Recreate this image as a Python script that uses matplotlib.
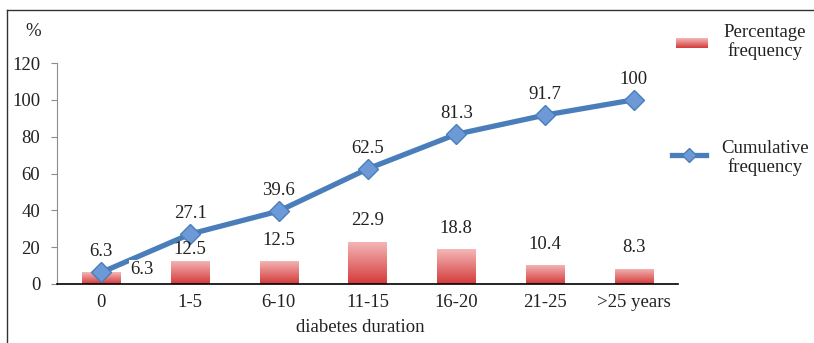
import matplotlib
matplotlib.use("Agg")
import matplotlib.pyplot as plt
import numpy as np
from matplotlib.colors import LinearSegmentedColormap
from matplotlib.lines import Line2D

plt.rcParams['font.family'] = ['Liberation Serif', 'DejaVu Serif']

durations = ["0", "1-5", "6-10", "11-15", "16-20", "21-25", ">25 years"]
percentage = [6.3, 12.5, 12.5, 22.9, 18.8, 10.4, 8.3]
cumulative = [6.3, 27.1, 39.6, 62.5, 81.3, 91.7, 100]

FS = 13.5
TXT = "#222222"
W, H = 814, 343
fig = plt.figure(figsize=(W / 100, H / 100), dpi=100)
ax = fig.add_axes([57 / W, 1 - 284 / H, (678 - 57) / W, (284 - 63) / H])

x = np.arange(len(durations))
red_grad = LinearSegmentedColormap.from_list("redgrad", ["#d43a3a", "#f5b8b8"])
grad = np.linspace(0, 1, 256).reshape(-1, 1)

bars = ax.bar(x, percentage, width=0.43, color="none", edgecolor="none", zorder=2)
for b in bars:
    x0, y0 = b.get_x(), b.get_y()
    im = ax.imshow(grad, cmap=red_grad, origin="lower", aspect="auto",
                   extent=[x0, x0 + b.get_width(), y0, y0 + b.get_height()],
                   zorder=2)
    im.set_clip_path(b)

ax.plot(x, cumulative, color="#4a7ebb", lw=3.8, marker="D", markersize=10,
        markerfacecolor="#6d9ad6", markeredgecolor="#4a7ebb", mew=1, zorder=4)

# cumulative labels above the points
for xi, v in zip(x, cumulative):
    ax.annotate(f"{v:g}", (xi, v), xytext=(0, 15), textcoords="offset points",
                ha="center", va="center", fontsize=FS, color=TXT, zorder=5)

# percentage labels
bar_offsets = [(29, 2), (0, 8), (0, 15), (0, 15), (0, 15), (0, 15), (0, 15)]
for xi, v, off in zip(x, percentage, bar_offsets):
    t = ax.annotate(f"{v:g}", (xi, v), xytext=off, textcoords="offset points",
                    ha="center", va="center", fontsize=FS, color=TXT, zorder=5)
    if off[0] != 0:
        t.set_bbox(dict(facecolor="white", edgecolor="none", pad=1))

ax.set_xlim(-0.5, len(durations) - 0.5)
ax.set_ylim(0, 120)
ax.set_yticks(np.arange(0, 121, 20))
ax.set_xticks(x)
ax.set_xticklabels(durations)

for s in ["top", "right"]:
    ax.spines[s].set_visible(False)
ax.spines["left"].set_color("#8c8c8c")
ax.spines["bottom"].set_color("black")
ax.spines["bottom"].set_linewidth(1.2)
ax.tick_params(axis="y", direction="out", length=4, color="#8c8c8c",
               labelsize=FS, labelcolor=TXT, pad=8)
ax.tick_params(axis="x", length=0, labelsize=FS, labelcolor=TXT, pad=7)

fig.text(360 / W, 1 - 327 / H, "diabetes duration", ha="center", va="center",
         fontsize=FS, color=TXT)
fig.text(33 / W, 1 - 32 / H, "%", ha="center", va="center",
         fontsize=FS, color=TXT)

# legend drawn by hand on the right
leg_ax = fig.add_axes([676 / W, 1 - 48 / H, 32 / W, 10 / H])
leg_ax.imshow(grad, cmap=red_grad, origin="lower", aspect="auto")
leg_ax.axis("off")
fig.add_artist(Line2D([672 / W, 706 / W], [1 - 155 / H] * 2, transform=fig.transFigure,
                      color="#4a7ebb", lw=3.8))
fig.add_artist(Line2D([689 / W], [1 - 155 / H], transform=fig.transFigure,
                      marker="D", markersize=7, markerfacecolor="#6d9ad6",
                      markeredgecolor="#4a7ebb", lw=0))
fig.text(765 / W, 1 - 42 / H, "Percentage\nfrequency", ha="center", va="center",
         multialignment="center", fontsize=FS, color=TXT, linespacing=1.08)
fig.text(765 / W, 1 - 158 / H, "Cumulative\nfrequency", ha="center", va="center",
         multialignment="center", fontsize=FS, color=TXT, linespacing=1.08)

# frame around the chart
fig.add_artist(Line2D([7 / W, 1.0], [1 - 10 / H] * 2, transform=fig.transFigure,
                      color="#333333", lw=1))
fig.add_artist(Line2D([7 / W] * 2, [0, 1 - 10 / H], transform=fig.transFigure,
                      color="#333333", lw=1))

fig.savefig("out.png", dpi=100)
